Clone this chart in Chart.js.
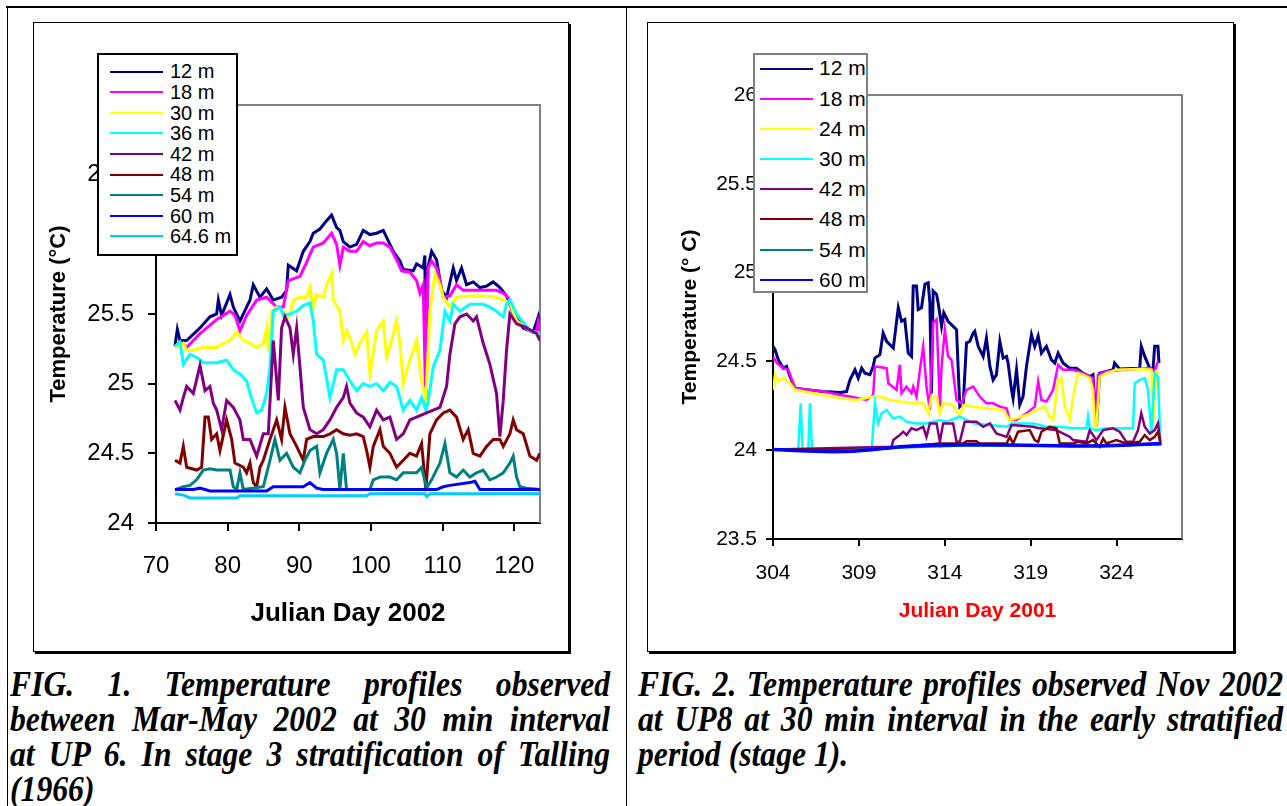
<!DOCTYPE html>
<html>
<head>
<meta charset="utf-8">
<script src="https://cdn.jsdelivr.net/npm/chart.js@4.4.1/dist/chart.umd.min.js"></script>
<style>
  body { margin: 0; width: 1287px; height: 806px; overflow: hidden; position: relative; background: #fff;
         font-family: 'Liberation Sans', Arial, sans-serif; }
  .rule { position: absolute; background: #000; }
  .frame { position: absolute; border: 1px solid #000; box-shadow: 2px 2px 0 #000; background: #fff; }
  .frame canvas { position: absolute; left: 0; top: 0; }
  .legend { position: absolute; box-sizing: border-box; background: #fff; }
  .legend .row { position: absolute; left: 0; right: 0; }
  .legend .swatch { position: absolute; top: 50%; height: 2px; margin-top: -1px; }
  .legend .label { position: absolute; top: 0; white-space: nowrap; color: #000; }
  .caption { position: absolute; font-family: 'Liberation Serif', 'Times New Roman', serif; font-weight: bold;
             font-style: italic; font-size: 36px; line-height: 35px; white-space: nowrap;
             transform: scaleX(0.88); transform-origin: left top; }
  .caption .j { text-align: justify; text-align-last: justify; }
</style>
</head>
<body>

<div class="rule" style="left:6px;top:6px;width:1281px;height:2px"></div>
<div class="rule" style="left:7px;top:6px;width:1px;height:800px"></div>
<div class="rule" style="left:626px;top:6px;width:1px;height:800px"></div>

<div class="frame" style="left:33px;top:22px;width:534px;height:628px">
  <canvas id="fig1" width="534" height="628"></canvas>
  <div class="legend" id="legend1" style="left:63px;top:30px;width:141px;height:203px;border:2px solid #000"></div>
</div>

<div class="frame" style="left:647px;top:22px;width:585px;height:628px">
  <canvas id="fig2" width="585" height="628"></canvas>
  <div class="legend" id="legend2" style="left:105px;top:30px;width:115px;height:240px;border:2px solid #808080"></div>
</div>

<div class="caption" style="left:10px;top:667px;width:682px">
  <div class="j">FIG. 1. Temperature profiles observed</div>
  <div class="j">between Mar-May 2002 at 30 min interval</div>
  <div class="j">at UP 6. In stage 3 stratification of Talling</div>
  <div>(1966)</div>
</div>
<div class="caption" style="left:638px;top:667px;width:733px">
  <div class="j">FIG. 2. Temperature profiles observed Nov 2002</div>
  <div class="j">at UP8 at 30 min interval in the early stratified</div>
  <div>period (stage 1).</div>
</div>

<script>
// Fig. 1 - UP 6, Mar-May 2002, [julian day, temperature °C]
const fig1Depths = ['12 m', '18 m', '30 m', '36 m', '42 m', '48 m', '54 m', '60 m', '64.6 m'];
const fig1Colors = ['#000080', '#ff00ff', '#ffff00', '#00ffff', '#800080', '#800000', '#008080', '#0000ff', '#00ccff'];
const fig1XTicks = [70, 80, 90, 100, 110, 120];
const fig1YTicks = [24, 24.5, 25, 25.5, 26, 26.5, 27];

const up6_12m = [[72.65,25.27],[72.98,25.39],[73.35,25.31],[74.28,25.31],[76.14,25.40],[77.53,25.48],[78.47,25.50],
  [78.70,25.60],[79.16,25.49],[80.33,25.64],[80.79,25.55],[81.72,25.45],[83.12,25.60],[83.58,25.71],[84.51,25.62],
  [85.44,25.68],[86.37,25.60],[87.53,25.62],[88.23,25.67],[88.47,25.85],[89.63,25.81],[90.56,25.95],[91.49,26.02],
  [91.95,26.08],[92.88,26.11],[93.81,26.17],[94.51,26.21],[95.21,26.12],[95.67,26.10],[96.14,26.02],[97.07,25.98],
  [98.0,26.0],[98.93,26.10],[99.86,26.07],[100.79,26.08],[101.72,26.10],[102.19,26.05],[103.12,25.95],[104.05,25.88],
  [104.51,25.82],[105.91,25.81],[106.37,25.86],[107.30,25.83],[107.53,25.92],[107.67,24.83],[107.95,25.83],
  [108.47,25.95],[109.16,25.89],[109.86,25.67],[110.56,25.62],[111.49,25.83],[111.95,25.74],[112.65,25.83],
  [113.35,25.71],[114.28,25.73],[115.21,25.69],[116.14,25.70],[117.07,25.73],[118.0,25.69],[118.93,25.63],
  [119.86,25.51],[121.26,25.40],[122.65,25.37],[123.35,25.48],[123.58,25.40]];
const up6_18m = [[72.65,25.26],[73.81,25.29],[74.28,25.26],[76.14,25.36],[78.47,25.46],[80.33,25.52],[81.02,25.49],
  [81.72,25.38],[82.65,25.49],[84.05,25.60],[85.44,25.62],[86.84,25.55],[87.77,25.55],[88.47,25.74],[90.09,25.77],
  [91.02,25.87],[91.95,25.98],[93.35,26.01],[94.51,26.08],[95.21,26.0],[95.67,25.85],[96.14,25.98],[97.07,25.95],
  [98.0,25.95],[98.93,26.02],[99.86,25.99],[100.79,26.01],[101.72,26.01],[102.65,25.98],[103.58,25.89],[104.28,25.81],
  [105.44,25.80],[106.37,25.74],[106.84,25.65],[107.30,25.71],[107.67,24.81],[107.95,25.83],[108.47,25.88],
  [109.16,25.83],[109.63,25.74],[110.09,25.62],[111.02,25.63],[111.95,25.71],[112.88,25.67],[113.81,25.67],
  [115.67,25.67],[117.53,25.67],[118.47,25.65],[119.16,25.62],[119.86,25.50],[120.79,25.43],[122.19,25.38],
  [123.12,25.37],[123.35,25.44],[123.58,25.38]];
const up6_30m = [[72.65,25.26],[73.81,25.29],[74.28,25.24],[75.21,25.24],[76.60,25.26],[78.47,25.26],[79.40,25.29],
  [80.33,25.31],[81.26,25.37],[82.19,25.31],[83.12,25.29],[84.05,25.26],[84.98,25.29],[85.44,25.40],[85.67,25.23],
  [86.14,25.52],[86.84,25.55],[87.77,25.52],[88.23,25.46],[88.70,25.50],[89.16,25.60],[90.09,25.62],[91.02,25.62],
  [91.49,25.69],[91.95,25.55],[92.42,25.64],[93.35,25.62],[93.81,25.71],[94.51,25.79],[94.74,25.60],[95.67,25.52],
  [96.14,25.31],[96.60,25.38],[97.07,25.33],[97.77,25.21],[98.47,25.29],[99.40,25.37],[99.86,25.07],[100.79,25.38],
  [101.72,25.45],[102.19,25.19],[102.65,25.26],[103.58,25.45],[104.05,25.29],[104.51,25.0],[105.44,25.17],
  [106.37,25.31],[107.07,25.02],[107.67,24.88],[108.23,25.52],[108.93,25.79],[109.63,25.71],[110.09,25.62],
  [111.02,25.55],[111.95,25.62],[113.81,25.63],[115.67,25.63],[117.53,25.62],[118.47,25.60],[119.40,25.58],
  [120.33,25.45],[122.19,25.38],[123.58,25.36]];
const up6_36m = [[72.65,25.27],[73.35,25.30],[73.81,25.14],[74.74,25.21],[75.67,25.19],[76.60,25.15],[78.47,25.15],
  [79.86,25.17],[80.79,25.10],[81.72,25.07],[82.65,25.02],[83.12,24.93],[84.05,24.79],[84.74,24.81],[85.44,24.93],
  [85.91,25.12],[86.37,25.52],[87.30,25.55],[87.77,25.49],[88.70,25.50],[89.63,25.52],[90.56,25.56],[91.49,25.58],
  [91.95,25.45],[92.42,25.21],[93.35,25.17],[94.28,24.90],[95.21,25.10],[96.14,25.10],[97.07,25.02],[98.0,24.95],
  [98.93,25.0],[99.86,24.98],[100.79,25.0],[101.72,24.95],[102.65,25.01],[103.58,24.98],[104.51,24.81],[105.44,24.88],
  [106.37,24.81],[107.07,24.90],[107.67,24.81],[108.0,24.88],[108.70,25.12],[109.63,25.24],[110.33,25.52],
  [111.02,25.45],[111.49,25.57],[112.42,25.52],[113.81,25.57],[115.67,25.57],[116.60,25.55],[117.53,25.52],
  [118.47,25.48],[118.93,25.57],[119.40,25.60],[120.33,25.50],[122.19,25.38],[123.58,25.36]];
const up6_42m = [[72.65,24.88],[73.35,24.81],[73.81,24.90],[74.28,24.98],[75.21,24.93],[76.14,25.13],[76.84,24.95],
  [77.53,24.98],[78.0,24.86],[78.47,24.81],[79.16,24.67],[79.86,24.88],[80.79,24.83],[81.72,24.74],[82.19,24.60],
  [83.12,24.60],[84.05,24.48],[84.98,24.64],[85.67,24.64],[86.37,25.31],[87.07,24.88],[87.53,25.40],[88.0,25.48],
  [88.70,25.40],[89.16,25.21],[89.63,25.40],[90.09,25.12],[90.56,24.83],[91.49,24.67],[92.42,24.64],[93.35,24.67],
  [94.28,24.74],[95.21,24.83],[96.14,24.90],[96.60,24.98],[97.07,24.86],[98.0,24.79],[98.93,24.76],[99.86,24.69],
  [100.79,24.81],[101.72,24.74],[102.65,24.76],[103.58,24.60],[104.51,24.64],[105.44,24.74],[106.37,24.76],
  [107.77,24.79],[108.70,24.81],[109.63,24.83],[110.56,24.98],[111.02,25.21],[111.72,25.43],[112.42,25.48],
  [113.35,25.50],[114.28,25.45],[114.74,25.48],[115.67,25.29],[116.60,25.14],[117.53,24.93],[118.0,24.62],
  [118.47,24.88],[118.93,25.24],[119.40,25.50],[120.33,25.43],[121.72,25.40],[123.12,25.36],[123.58,25.31]];
const up6_48m = [[72.65,24.45],[73.35,24.43],[73.81,24.55],[74.28,24.40],[75.67,24.38],[76.37,24.40],[76.84,24.76],
  [77.30,24.76],[77.77,24.60],[78.47,24.64],[78.93,24.52],[79.86,24.74],[80.56,24.60],[81.02,24.43],[82.19,24.40],
  [82.65,24.36],[83.12,24.43],[83.58,24.29],[84.05,24.26],[84.51,24.40],[84.98,24.45],[85.91,24.60],[86.84,24.74],
  [87.53,24.60],[88.0,24.83],[88.70,24.64],[89.63,24.55],[90.56,24.45],[91.02,24.60],[91.95,24.62],[93.35,24.62],
  [94.28,24.64],[95.21,24.67],[96.14,24.64],[97.07,24.63],[98.0,24.64],[98.93,24.62],[99.40,24.52],[99.86,24.40],
  [100.33,24.55],[101.26,24.67],[101.72,24.55],[102.65,24.50],[103.58,24.40],[104.51,24.45],[105.44,24.50],
  [106.37,24.48],[107.07,24.57],[107.67,24.24],[108.23,24.64],[109.16,24.74],[110.09,24.79],[111.02,24.81],
  [111.95,24.76],[112.88,24.60],[113.58,24.67],[114.28,24.50],[115.21,24.48],[116.14,24.55],[117.07,24.60],
  [118.0,24.60],[118.47,24.55],[119.40,24.64],[119.86,24.74],[120.33,24.67],[121.26,24.64],[122.19,24.48],
  [123.12,24.45],[123.58,24.50]];
const up6_54m = [[72.65,24.24],[73.81,24.26],[74.74,24.27],[75.67,24.31],[76.60,24.38],[77.53,24.39],[78.47,24.38],
  [80.33,24.38],[80.79,24.26],[81.26,24.24],[81.72,24.36],[82.19,24.24],[84.98,24.26],[85.91,24.45],[86.60,24.60],
  [87.30,24.45],[88.23,24.50],[89.16,24.40],[90.09,24.36],[90.79,24.45],[91.49,24.52],[92.42,24.55],[92.88,24.36],
  [93.81,24.50],[94.74,24.60],[95.21,24.50],[95.67,24.24],[96.14,24.50],[96.60,24.24],[99.86,24.24],[100.33,24.31],
  [101.26,24.33],[102.65,24.33],[103.58,24.31],[104.51,24.36],[106.37,24.36],[107.07,24.40],[107.77,24.25],
  [108.47,24.31],[109.63,24.43],[110.33,24.57],[111.02,24.36],[111.95,24.33],[112.88,24.38],[113.81,24.33],
  [114.74,24.36],[115.67,24.38],[116.60,24.31],[117.53,24.33],[118.47,24.36],[119.40,24.43],[119.86,24.48],
  [120.33,24.33],[120.79,24.26],[121.72,24.25],[123.58,24.24]];
const up6_60m = [[72.65,24.24],[75.21,24.24],[76.14,24.25],[77.53,24.23],[85.44,24.23],[86.37,24.26],[90.56,24.26],
  [91.49,24.29],[92.42,24.25],[93.35,24.24],[109.16,24.24],[110.09,24.26],[111.02,24.27],[113.81,24.29],
  [114.51,24.30],[115.21,24.24],[123.58,24.24]];
const up6_646m = [[72.65,24.21],[73.81,24.20],[74.74,24.18],[81.26,24.18],[81.72,24.195],[99.40,24.195],
  [99.86,24.21],[107.53,24.21],[107.77,24.19],[108.23,24.21],[123.58,24.21]];
const fig1Series = [up6_12m, up6_18m, up6_30m, up6_36m, up6_42m, up6_48m, up6_54m, up6_60m, up6_646m];

// Fig. 2 - UP8, Nov 2001
const fig2Depths = ['12 m', '18 m', '24 m', '30 m', '42 m', '48 m', '54 m', '60 m'];
const fig2Colors = ['#000080', '#ff00ff', '#ffff00', '#00ffff', '#800080', '#800000', '#008080', '#0000ff'];
const fig2XTicks = [304, 309, 314, 319, 324];
const fig2YTicks = [23.5, 24, 24.5, 25, 25.5, 26];

const up8_12m = [[304.00,24.585],[304.12,24.566],[304.31,24.509],[304.60,24.462],[304.79,24.472],[304.99,24.415],
  [305.28,24.349],[305.96,24.340],[306.93,24.330],[307.90,24.325],[308.28,24.330],[308.48,24.396],[308.77,24.453],
  [308.96,24.406],[309.16,24.462],[309.35,24.434],[309.64,24.425],[309.83,24.472],[309.93,24.519],[310.22,24.538],
  [310.41,24.660],[310.61,24.613],[311.00,24.575],[311.29,24.802],[311.48,24.726],[311.67,24.736],[311.87,24.547],
  [312.06,24.528],[312.16,24.925],[312.35,24.925],[312.45,24.792],[312.64,24.802],[312.84,24.934],[313.03,24.943],
  [313.13,24.830],[313.22,24.321],[313.32,24.896],[313.52,24.877],[313.61,24.830],[313.81,24.698],[313.94,24.774],
  [314.19,24.726],[314.68,24.679],[314.87,24.245],[315.07,24.264],[315.26,24.604],[315.45,24.613],[315.65,24.660],
  [315.74,24.670],[315.94,24.585],[316.23,24.528],[316.42,24.632],[316.62,24.472],[316.81,24.396],[317.00,24.425],
  [317.20,24.613],[317.39,24.519],[317.59,24.528],[317.68,24.491],[317.88,24.340],[317.97,24.292],[318.17,24.453],
  [318.36,24.255],[318.55,24.302],[318.75,24.472],[319.04,24.651],[319.23,24.585],[319.43,24.642],[319.62,24.547],
  [319.91,24.585],[320.20,24.509],[320.40,24.491],[320.59,24.547],[320.88,24.491],[321.27,24.462],[321.66,24.462],
  [322.04,24.434],[322.43,24.415],[322.62,24.425],[322.82,24.132],[323.01,24.434],[323.40,24.443],[323.79,24.453],
  [323.88,24.491],[324.17,24.457],[325.34,24.462],[325.43,24.585],[325.63,24.528],[325.92,24.462],[326.11,24.453],
  [326.21,24.585],[326.40,24.585],[326.46,24.491]];
const up8_18m = [[304.00,24.528],[304.21,24.491],[304.60,24.462],[304.89,24.453],[305.28,24.349],[306.93,24.330],
  [307.90,24.311],[308.48,24.302],[309.45,24.283],[309.83,24.311],[309.93,24.472],[310.61,24.462],[310.71,24.377],
  [311.19,24.340],[311.38,24.481],[311.48,24.321],[311.77,24.358],[312.06,24.321],[312.16,24.358],[312.35,24.302],
  [312.55,24.453],[312.74,24.585],[312.93,24.358],[313.13,24.226],[313.32,24.717],[313.52,24.736],[313.71,24.245],
  [313.81,24.472],[314.00,24.679],[314.19,24.528],[314.39,24.509],[314.68,24.283],[314.97,24.264],[315.26,24.340],
  [315.65,24.358],[316.03,24.302],[316.42,24.264],[316.81,24.264],[317.20,24.245],[317.59,24.236],[317.78,24.170],
  [318.17,24.170],[318.75,24.208],[319.23,24.245],[319.43,24.387],[319.62,24.283],[319.91,24.274],[320.30,24.340],
  [320.59,24.481],[320.88,24.453],[321.46,24.453],[322.04,24.434],[322.43,24.415],[322.62,24.406],[322.78,24.132],
  [322.91,24.425],[323.40,24.443],[324.37,24.453],[325.92,24.462],[326.21,24.443],[326.40,24.500]];
const up8_24m = [[304.00,24.340],[304.12,24.425],[304.31,24.387],[304.60,24.406],[304.99,24.377],[305.28,24.340],
  [306.93,24.311],[307.90,24.292],[308.86,24.283],[309.83,24.302],[310.22,24.302],[310.80,24.283],[311.38,24.274],
  [312.16,24.264],[312.74,24.264],[313.03,24.208],[313.22,24.302],[313.52,24.302],[313.71,24.208],[313.90,24.264],
  [314.48,24.255],[314.87,24.189],[315.07,24.255],[315.65,24.245],[316.42,24.236],[317.39,24.226],[317.78,24.170],
  [318.17,24.179],[318.75,24.198],[319.33,24.226],[319.81,24.245],[320.10,24.189],[320.30,24.170],[320.59,24.396],
  [320.78,24.406],[320.98,24.245],[321.27,24.170],[321.46,24.302],[321.75,24.434],[322.04,24.425],[322.43,24.406],
  [322.62,24.340],[322.72,24.142],[322.82,24.132],[323.01,24.415],[323.40,24.434],[323.98,24.453],[325.34,24.457],
  [326.02,24.453],[326.11,24.132],[326.31,24.443],[326.46,24.434]];
const up8_30m = [[304.00,24.004],[305.47,24.004],[305.61,24.264],[305.72,24.000],[306.05,24.000],[306.15,24.264],
  [306.27,24.004],[309.74,24.000],[309.93,24.264],[310.12,24.151],[310.32,24.208],[310.61,24.226],[311.00,24.179],
  [311.38,24.189],[311.77,24.160],[312.35,24.151],[312.93,24.151],[313.71,24.170],[314.10,24.160],[314.87,24.189],
  [315.65,24.151],[316.62,24.142],[317.59,24.132],[317.88,24.151],[318.55,24.151],[319.14,24.151],[319.52,24.142],
  [319.91,24.132],[320.69,24.132],[321.46,24.123],[322.24,24.123],[322.33,24.189],[322.43,24.123],[322.82,24.113],
  [323.40,24.123],[324.95,24.123],[325.05,24.377],[325.34,24.396],[325.63,24.406],[325.82,24.340],[326.02,24.094],
  [326.21,24.434],[326.40,24.415],[326.54,24.047]];
const up8_42m = [[304.00,24.004],[310.90,24.019],[311.00,24.057],[311.38,24.085],[311.58,24.104],[311.77,24.085],
  [312.06,24.123],[312.35,24.113],[312.74,24.132],[312.93,24.075],[313.13,24.151],[313.52,24.151],[313.71,24.047],
  [313.90,24.151],[314.48,24.151],[314.68,24.047],[314.87,24.047],[315.16,24.160],[315.84,24.160],[316.23,24.132],
  [316.62,24.151],[317.00,24.094],[317.59,24.075],[317.88,24.142],[319.14,24.132],[319.52,24.123],[320.49,24.113],
  [321.27,24.075],[321.46,24.057],[322.24,24.047],[322.43,24.113],[322.82,24.057],[323.21,24.113],[323.79,24.123],
  [324.17,24.104],[324.56,24.047],[324.95,24.047],[325.24,24.113],[325.43,24.208],[325.63,24.132],[325.92,24.094],
  [326.21,24.113],[326.40,24.151],[326.54,24.047]];
const up8_48m = [[304.00,24.004],[309.83,24.004],[312.55,24.028],[313.71,24.038],[315.07,24.038],[315.26,24.051],
  [315.84,24.051],[316.03,24.038],[317.59,24.038],[317.78,24.075],[317.97,24.038],[318.26,24.104],[318.94,24.113],
  [319.23,24.057],[319.43,24.047],[319.62,24.104],[320.10,24.132],[320.49,24.123],[320.69,24.038],[321.46,24.038],
  [321.75,24.047],[322.24,24.038],[322.62,24.057],[323.01,24.019],[323.21,24.066],[323.40,24.038],[323.98,24.057],
  [324.56,24.038],[325.34,24.047],[325.63,24.085],[325.92,24.057],[326.21,24.075],[326.40,24.104],[326.54,24.042]];
const up8_54m = [[304.00,24.004],[307.51,23.994],[311.38,24.015],[315.65,24.028],[321.46,24.023],[326.60,24.034]];
const up8_60m = [[304.00,24.004],[304.99,24.000],[305.96,23.996],[307.51,23.991],[308.67,23.994],[309.83,24.004],
  [311.38,24.019],[312.93,24.028],[315.65,24.032],[318.55,24.028],[321.46,24.023],[323.01,24.023],[324.37,24.028],
  [326.60,24.038]];
const fig2Series = [up8_12m, up8_18m, up8_24m, up8_30m, up8_42m, up8_48m, up8_54m, up8_60m];

Chart.defaults.font.family = "'Liberation Sans', Arial, sans-serif";
Chart.defaults.color = '#000';

// grey top and right edges of the plot area
const plotFrame = {
  id: 'plotFrame',
  beforeDatasetsDraw(chart) {
    const { ctx, chartArea: a } = chart;
    ctx.save();
    ctx.strokeStyle = '#808080';
    ctx.lineWidth = 2;
    ctx.beginPath();
    ctx.moveTo(a.left, a.top);
    ctx.lineTo(a.right, a.top);
    ctx.lineTo(a.right, a.bottom);
    ctx.stroke();
    ctx.restore();
  }
};

function axis(o) {
  return {
    type: 'linear',
    min: o.min,
    max: o.max,
    afterBuildTicks: scale => { scale.ticks = o.ticks.map(v => ({ value: v })); },
    afterFit: scale => {
      if (scale.isHorizontal()) scale.height = o.size;
      else scale.width = o.size;
    },
    border: { color: '#000', width: 2 },
    grid: { drawOnChartArea: false, color: '#000', lineWidth: 2, tickLength: o.tickLength },
    ticks: {
      color: '#000', font: { size: o.tickSize }, padding: o.tickPad,
      autoSkip: false, maxRotation: 0, callback: v => String(v)
    },
    title: {
      display: true, text: o.title, color: o.titleColor || '#000',
      font: { size: o.titleSize, weight: 'bold' }, padding: o.titlePad
    }
  };
}

function makeChart(id, depths, colors, series, o) {
  const n = series.length;
  return new Chart(document.getElementById(id), {
    type: 'line',
    data: {
      datasets: series.map((pts, i) => ({
        label: depths[i],
        data: pts.map(([x, y]) => ({ x, y })),
        borderColor: colors[i],
        borderWidth: o.lineWidths[i],
        pointRadius: 0,
        tension: 0,
        fill: false,
        order: n - i
      }))
    },
    options: {
      responsive: false,
      animation: false,
      events: [],
      layout: { padding: o.padding },
      plugins: { legend: { display: false }, tooltip: { enabled: false } },
      scales: { x: axis(o.x), y: axis(o.y) }
    },
    plugins: [plotFrame]
  });
}

// html legend built from the chart datasets
function buildLegend(el, chart, o) {
  el.style.fontSize = o.fontSize + 'px';
  chart.data.datasets.forEach((ds, i) => {
    const row = document.createElement('div');
    row.className = 'row';
    row.style.top = (o.first + i * o.step - o.step / 2) + 'px';
    row.style.height = o.step + 'px';
    row.style.lineHeight = o.step + 'px';
    const sw = document.createElement('span');
    sw.className = 'swatch';
    sw.style.left = o.swatchLeft + 'px';
    sw.style.width = o.swatchWidth + 'px';
    sw.style.background = ds.borderColor;
    const label = document.createElement('span');
    label.className = 'label';
    label.style.left = o.textLeft + 'px';
    label.textContent = ds.label;
    row.appendChild(sw);
    row.appendChild(label);
    el.appendChild(row);
  });
}

const chart1 = makeChart('fig1', fig1Depths, fig1Colors, fig1Series, {
  padding: { left: 0, top: 82, right: 28, bottom: 0 },
  lineWidths: [3, 3, 3, 3, 3, 3, 3, 3, 3],
  x: { min: 70, max: 123.6, ticks: fig1XTicks, size: 128, tickLength: 8, tickSize: 24, tickPad: 21,
       title: 'Julian Day 2002', titleSize: 26, titlePad: { top: 0, bottom: 22 } },
  y: { min: 24, max: 27, ticks: fig1YTicks, size: 122, tickLength: 8, tickSize: 24, tickPad: 14,
       title: 'Temperature (°C)', titleSize: 22, titlePad: { top: 12, bottom: 0 } }
});

const chart2 = makeChart('fig2', fig2Depths, fig2Colors, fig2Series, {
  padding: { left: 0, top: 72, right: 51, bottom: 0 },
  lineWidths: [3, 2.5, 2.5, 2.5, 2.5, 2.5, 2.5, 3.5],
  x: { min: 304, max: 327.8, ticks: fig2XTicks, size: 112, tickLength: 7, tickSize: 21, tickPad: 15,
       title: 'Julian Day 2001', titleColor: '#ff0000', titleSize: 21, titlePad: { top: 0, bottom: 27 } },
  y: { min: 23.5, max: 26, ticks: fig2YTicks, size: 125, tickLength: 7, tickSize: 21, tickPad: 9,
       title: 'Temperature (° C)', titleSize: 21, titlePad: { top: 30, bottom: 0 } }
});

buildLegend(document.getElementById('legend1'), chart1,
  { fontSize: 20, first: 16.7, step: 20.6, swatchLeft: 11, swatchWidth: 53, textLeft: 71 });
buildLegend(document.getElementById('legend2'), chart2,
  { fontSize: 21, first: 13.5, step: 30.2, swatchLeft: 5, swatchWidth: 53, textLeft: 64 });
</script>
</body>
</html>
